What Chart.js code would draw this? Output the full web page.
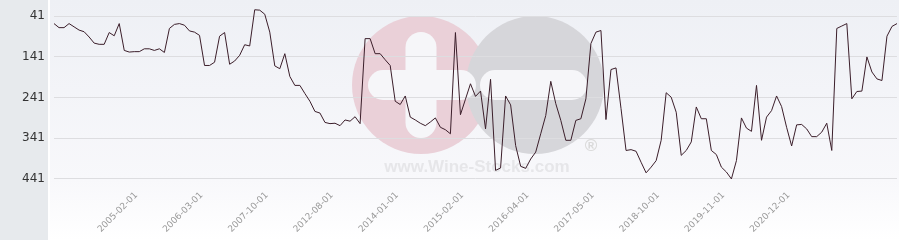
<!DOCTYPE html>
<html>
<head>
<meta charset="utf-8">
<script src="https://cdn.jsdelivr.net/npm/chart.js@4/dist/chart.umd.min.js"></script>
<style>
  html, body { margin: 0; padding: 0; background: #fff; }
</style>
</head>
<body>
<canvas id="rankChart" width="904" height="240"></canvas>
<script>
// rank values, one per observation (lower = better, axis is reversed)
var rankValues = [
  59, 69, 69, 59, 67, 75, 79, 92, 107, 110,
  110, 81, 89, 59, 125, 129, 128, 128, 121, 121,
  125, 121, 130, 71, 61, 59, 63, 77, 80, 88,
  162, 162, 154, 90, 81, 159, 151, 137, 111, 114,
  25, 26, 36, 80, 163, 170, 133, 189, 211, 211,
  231, 250, 275, 279, 302, 305, 304, 310, 296, 299,
  288, 305, 96, 96, 133, 133, 148, 162, 250, 258,
  237, 289, 296, 304, 310, 301, 291, 314, 320, 330,
  81, 283, 245, 207, 238, 225, 318, 196, 420, 414,
  237, 259, 359, 410, 415, 392, 375, 330, 285, 201,
  256, 297, 346, 346, 297, 293, 244, 108, 80, 76,
  295, 172, 168, 268, 371, 369, 373, 400, 426, 412,
  396, 346, 229, 240, 277, 383, 371, 350, 264, 293,
  293, 371, 381, 412, 424, 441, 396, 291, 316, 324,
  211, 346, 289, 273, 237, 263, 314, 360, 308, 307,
  318, 337, 337, 326, 304, 371, 71, 65, 59, 244,
  226, 225, 141, 178, 195, 199, 90, 66, 59
];

// dates shown on the x axis and the observation they sit on
var tickLabels = ['2005-02-01', '2006-03-01', '2007-10-01', '2012-08-01', '2014-01-01',
  '2015-02-01', '2016-04-01', '2017-05-01', '2018-10-01', '2019-11-01', '2020-12-01'];
var tickIndex = [17, 30, 43, 56, 69, 82, 95, 108, 121, 134, 147];

var yTicks = [41, 141, 241, 341, 441];

var categories = rankValues.map(function (v, i) { return i; });

// background panels + faint site watermark
var backdrop = {
  id: 'backdrop',
  beforeDraw: function (chart) {
    var c = chart.ctx;
    c.save();
    c.fillStyle = '#e7eaed';
    c.fillRect(0, 0, 48, 240);
    var g = c.createLinearGradient(0, 0, 0, 240);
    g.addColorStop(0, '#eef0f5');
    g.addColorStop(0.75, '#f8f8fb');
    g.addColorStop(1, '#ffffff');
    c.fillStyle = g;
    c.fillRect(50, 0, 849, 240);

    function bar(x, y, w, h) {
      var r = h / 2;
      c.beginPath();
      c.moveTo(x + r, y);
      c.lineTo(x + w - r, y);
      c.arc(x + w - r, y + r, r, -Math.PI / 2, Math.PI / 2);
      c.lineTo(x + r, y + h);
      c.arc(x + r, y + r, r, Math.PI / 2, Math.PI * 1.5);
      c.closePath();
      c.fill();
    }
    c.fillStyle = '#ead0d8';
    c.beginPath(); c.arc(421, 85, 69, 0, Math.PI * 2); c.fill();
    c.fillStyle = '#d6d6da';
    c.beginPath(); c.arc(535, 85, 69, 0, Math.PI * 2); c.fill();
    c.fillStyle = '#f6f6f9';
    bar(368, 70, 108, 30);
    c.save();
    c.translate(421, 85); c.rotate(Math.PI / 2);
    bar(-53, -15.5, 106, 31);
    c.restore();
    bar(480, 70, 107, 30);
    c.fillStyle = '#e6e6e9';
    c.font = 'bold 17px "Liberation Sans", Arial, sans-serif';
    c.textAlign = 'center';
    c.textBaseline = 'alphabetic';
    c.fillText('www.Wine-Stocks.com', 477, 172);
    c.fillStyle = '#dadada';
    c.fillText('\u00AE', 591, 151);
    c.restore();
  }
};

new Chart(document.getElementById('rankChart'), {
  type: 'line',
  data: {
    labels: categories,
    datasets: [{
      data: rankValues,
      borderColor: '#3b1e2a',
      borderWidth: 1,
      pointRadius: 0,
      tension: 0,
      fill: false,
      clip: false
    }]
  },
  options: {
    responsive: false,
    animation: false,
    layout: { padding: { left: 0, right: 7, top: 0, bottom: 0 } },
    plugins: { legend: { display: false }, tooltip: { enabled: false } },
    scales: {
      x: {
        type: 'category',
        offset: false,
        border: { display: false },
        grid: { display: false },
        afterFit: function (scale) {
          scale.height = 57;
          scale.paddingLeft = 0;
          scale.paddingRight = 0;
        },
        ticks: {
          autoSkip: false,
          minRotation: 45,
          maxRotation: 45,
          padding: -1,
          labelOffset: -3,
          color: '#999999',
          font: { family: '"DejaVu Sans", sans-serif', size: 9 },
          callback: function (value, index) {
            var j = tickIndex.indexOf(index);
            return j >= 0 ? tickLabels[j] : null;
          }
        }
      },
      y: {
        reverse: true,
        min: 1,
        max: 451,
        border: { display: false },
        grid: { color: '#dddde0', lineWidth: 1, drawTicks: false },
        afterFit: function (scale) {
          scale.width = 54;
          scale.paddingTop = 0;
          scale.paddingBottom = 0;
        },
        afterBuildTicks: function (scale) {
          scale.ticks = yTicks.map(function (v) { return { value: v }; });
        },
        ticks: {
          padding: 9,
          color: '#333333',
          font: { family: '"DejaVu Sans", sans-serif', size: 12 }
        }
      }
    }
  },
  plugins: [backdrop]
});
</script>
</body>
</html>
